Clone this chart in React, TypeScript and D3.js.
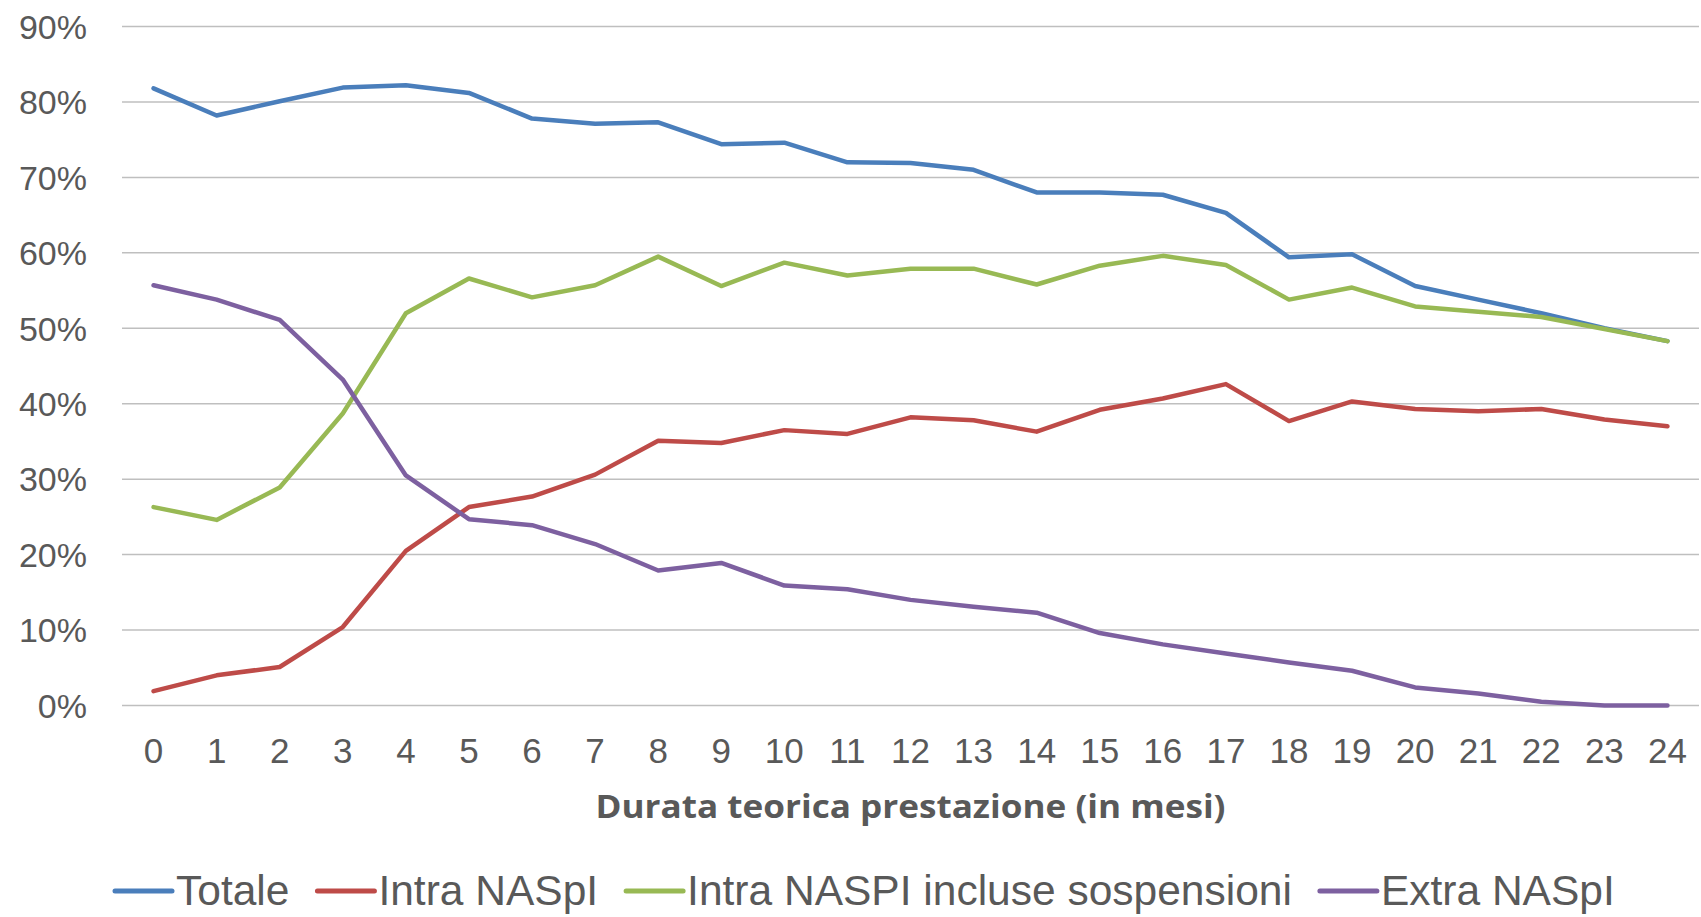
import React, { useEffect, useRef } from 'react';
import * as d3 from 'd3';

const months = d3.range(0, 25).map(String);

const totale = [81.8, 78.2, 80.1, 81.9, 82.2, 81.2, 77.8, 77.1, 77.3, 74.4, 74.6, 72.0, 71.9, 71.0, 68.0, 68.0, 67.7, 65.3, 59.4, 59.8, 55.6, 53.8, 52.0, 50.0, 48.3];
const intraNaspi = [1.9, 4.0, 5.1, 10.4, 20.5, 26.3, 27.7, 30.6, 35.1, 34.8, 36.5, 36.0, 38.2, 37.8, 36.3, 39.2, 40.7, 42.6, 37.7, 40.3, 39.3, 39.0, 39.3, 37.9, 37.0];
const intraSospensioni = [26.3, 24.6, 28.9, 38.7, 52.0, 56.6, 54.1, 55.7, 59.5, 55.6, 58.7, 57.0, 57.9, 57.9, 55.8, 58.3, 59.6, 58.4, 53.8, 55.4, 52.9, 52.2, 51.5, 49.9, 48.3];
const extraNaspi = [55.7, 53.8, 51.1, 43.2, 30.5, 24.7, 23.9, 21.4, 17.9, 18.9, 15.9, 15.4, 14.0, 13.1, 12.3, 9.6, 8.1, 6.9, 5.7, 4.6, 2.4, 1.6, 0.5, 0.0, 0.0];

const yTicks = [0, 10, 20, 30, 40, 50, 60, 70, 80, 90];

const seriesNames = ['Totale', 'Intra NASpI', 'Intra NASPI incluse sospensioni', 'Extra NASpI'];
const seriesValues = [totale, intraNaspi, intraSospensioni, extraNaspi];
const seriesColors = ['#4a7ebb', '#be4b48', '#98b954', '#7d60a0'];

const xTitle = 'Durata teorica prestazione (in mesi)';

const WIDTH = 1701;
const HEIGHT = 917;
const LEFT = 122;
const RIGHT = 1699;
const TOP = 26.5;
const BOTTOM = 705.5;
const TEXT = '#595959';

const App = () => {
  const ref = useRef<SVGSVGElement>(null);

  useEffect(() => {
    const svg = d3.select(ref.current);
    svg.selectAll('*').remove();

    const x = d3.scaleBand().domain(months).range([LEFT, RIGHT]).padding(0);
    const xc = (i: number) => (x(months[i]) as number) + x.bandwidth() / 2;
    const y = d3.scaleLinear().domain([0, 90]).range([BOTTOM, TOP]);

    // gridlines
    svg.append('g')
      .selectAll('line')
      .data(yTicks)
      .join('line')
      .attr('x1', LEFT)
      .attr('x2', RIGHT)
      .attr('y1', d => y(d))
      .attr('y2', d => y(d))
      .attr('stroke', '#bfbfbf')
      .attr('stroke-width', 1.5);

    // y labels
    svg.append('g')
      .selectAll('text')
      .data(yTicks)
      .join('text')
      .attr('x', 87)
      .attr('y', d => y(d))
      .attr('dy', '0.36em')
      .attr('text-anchor', 'end')
      .attr('font-family', 'Liberation Sans, Arial, sans-serif')
      .attr('font-size', 34)
      .attr('fill', TEXT)
      .text(d => `${d}%`);

    // x labels
    svg.append('g')
      .selectAll('text')
      .data(months)
      .join('text')
      .attr('x', (d, i) => xc(i))
      .attr('y', 763)
      .attr('text-anchor', 'middle')
      .attr('font-family', 'Liberation Sans, Arial, sans-serif')
      .attr('font-size', 35)
      .attr('fill', TEXT)
      .text(d => d);

    svg.append('text')
      .attr('x', (LEFT + RIGHT) / 2)
      .attr('y', 818)
      .attr('text-anchor', 'middle')
      .attr('font-family', 'Open Sans, sans-serif')
      .attr('font-weight', 'bold')
      .attr('font-size', 32)
      .attr('fill', TEXT)
      .attr('textLength', 630)
      .attr('lengthAdjust', 'spacingAndGlyphs')
      .text(xTitle);

    const line = d3.line<number>()
      .x((d, i) => xc(i))
      .y(d => y(d));

    svg.append('g')
      .selectAll('path')
      .data(seriesValues)
      .join('path')
      .attr('d', d => line(d))
      .attr('fill', 'none')
      .attr('stroke', (d, i) => seriesColors[i])
      .attr('stroke-width', 4.5)
      .attr('stroke-linejoin', 'round')
      .attr('stroke-linecap', 'round');

    // legend
    const legend = svg.append('g');
    let cx = 115;
    seriesNames.forEach((name, i) => {
      legend.append('line')
        .attr('x1', cx)
        .attr('x2', cx + 57)
        .attr('y1', 891)
        .attr('y2', 891)
        .attr('stroke', seriesColors[i])
        .attr('stroke-width', 5)
        .attr('stroke-linecap', 'round');
      const t = legend.append('text')
        .attr('x', cx + 61)
        .attr('y', 905)
        .attr('font-family', 'Liberation Sans, Arial, sans-serif')
        .attr('font-size', 42.5)
        .attr('fill', TEXT)
        .text(name);
      const w = (t.node() as SVGTextElement).getComputedTextLength();
      cx = cx + 61 + w + 28;
    });
  }, []);

  return (
    <svg
      ref={ref}
      width={WIDTH}
      height={HEIGHT}
      style={{ position: 'absolute', left: 0, top: 0, background: '#fff' }}
    />
  );
};

export default App;
